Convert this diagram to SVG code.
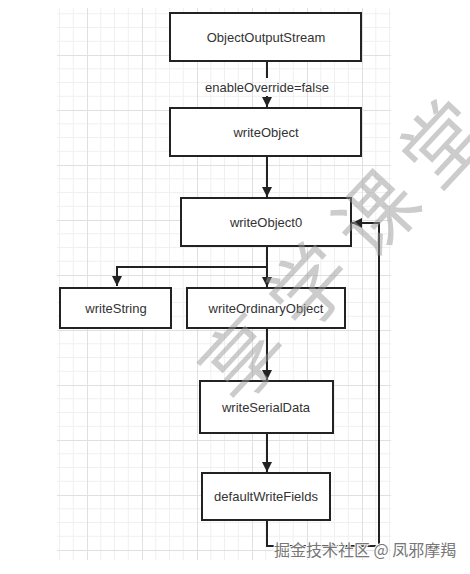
<svg xmlns="http://www.w3.org/2000/svg" width="470" height="574" viewBox="0 0 470 574">
<style>
.box{fill:#fff;stroke:#222;stroke-width:2}
.lbl{font-family:"Liberation Sans",Arial,sans-serif;font-size:13px;fill:#333;text-anchor:middle;dominant-baseline:central}
.edge{fill:none;stroke:#222;stroke-width:2}
</style>
<defs>
<pattern id="grid" patternUnits="userSpaceOnUse" x="87" y="55" width="55" height="55">
<path d="M13.75 0V55M27.5 0V55M41.25 0V55M0 13.75H55M0 27.5H55M0 41.25H55" stroke="#f0f0f0" stroke-width="1" fill="none"/>
<path d="M0.5 0V55M0 0.5H55" stroke="#e0e0e0" stroke-width="1" fill="none"/>
</pattern>
<marker id="arr" viewBox="0 0 10 10" refX="10" refY="5" markerWidth="10" markerHeight="10" markerUnits="userSpaceOnUse" orient="auto">
<path d="M0 0L10 5L0 10Z" fill="#222"/>
</marker>
</defs>
<rect width="470" height="574" fill="#fff"/>
<rect x="57" y="8" width="334" height="552" fill="url(#grid)"/>
<g id="connectors">
<path class="edge" d="M267 61V78"/>
<path class="edge" d="M267 96V107" marker-end="url(#arr)"/>
<path class="edge" d="M267 156V197" marker-end="url(#arr)"/>
<path class="edge" d="M267 246V287" marker-end="url(#arr)"/>
<path class="edge" d="M267 267H117V286" marker-end="url(#arr)"/>
<path class="edge" d="M267 328V380" marker-end="url(#arr)"/>
<path class="edge" d="M267 433V472" marker-end="url(#arr)"/>
<path class="edge" d="M267 520V546H379V223H352" marker-end="url(#arr)"/>
<text class="lbl" x="267" y="87">enableOverride=false</text>
</g>
<g id="objectOutputStream"><rect class="box" x="170" y="13" width="191" height="48"/><text class="lbl" x="266" y="37">ObjectOutputStream</text></g>
<g id="writeObject"><rect class="box" x="170" y="108" width="191" height="48"/><text class="lbl" x="266" y="132">writeObject</text></g>
<g id="writeObject0"><rect class="box" x="181" y="198" width="170" height="48"/><text class="lbl" x="266" y="222">writeObject0</text></g>
<g id="writeString"><rect class="box" x="60" y="288" width="111" height="40"/><text class="lbl" x="116" y="308">writeString</text></g>
<g id="writeOrdinaryObject"><rect class="box" x="187" y="288" width="158" height="40"/><text class="lbl" x="266" y="308">writeOrdinaryObject</text></g>
<g id="writeSerialData"><rect class="box" x="200" y="381" width="133" height="52"/><text class="lbl" x="266" y="407">writeSerialData</text></g>
<g id="defaultWriteFields"><rect class="box" x="202" y="473" width="128" height="47"/><text class="lbl" x="266" y="496">defaultWriteFields</text></g>
<text x="345" y="240" transform="rotate(-47 345 240)" text-anchor="middle" dominant-baseline="central" font-family="'Noto Sans CJK SC',sans-serif" font-size="80" font-weight="400" letter-spacing="18" fill="#999" fill-opacity="0.5">享学课堂</text>
<text x="274" y="556" font-family="'Noto Sans CJK SC',sans-serif" font-size="16" fill="#777" stroke="#fff" stroke-width="2" paint-order="stroke">掘金技术社区 @ 凤邪摩羯</text>
</svg>
